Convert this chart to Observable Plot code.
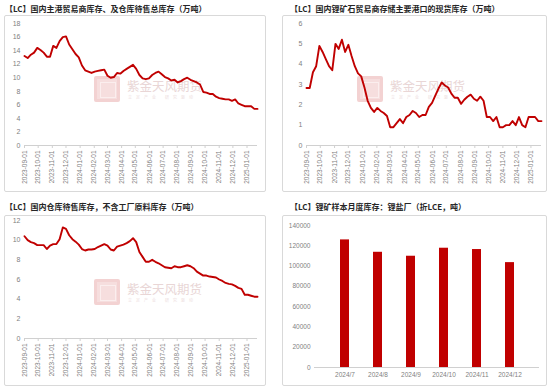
<!DOCTYPE html>
<html><head><meta charset="utf-8">
<script src="https://cdn.jsdelivr.net/npm/d3@7"></script>
<script src="https://cdn.jsdelivr.net/npm/@observablehq/plot@0.6"></script>
<style>
body{margin:0;width:550px;height:387px;position:relative;background:#fff;font-family:"Noto Sans CJK SC",sans-serif;overflow:hidden}
.title{position:absolute;font-size:8px;font-weight:bold;color:#262626;white-space:nowrap;line-height:10px}
.box{position:absolute;border:1px solid #d9d9d9;box-sizing:border-box;border-radius:2px}
.chart{position:absolute}
.wm-logo{position:absolute;width:26px;height:26px;background:#f6dede;border-radius:2px;box-sizing:border-box;border:3px solid #f3d2d2}
.wm-logo i{position:absolute;left:3px;top:3px;width:14px;height:14px;border:1px solid #fbeeee}
.wm-text{position:absolute;font-size:12.5px;color:#e9d6d6;white-space:nowrap;line-height:14px}
.wm-sub{position:absolute;font-size:4px;color:#ecdcdc;white-space:nowrap;letter-spacing:4px;line-height:5px}
</style></head><body>
<div id="root"></div>
<script>
// ---------- data ----------
const startDate = "2023-09-01";
const weeksCount = 74;
const dates = d3.range(weeksCount).map(i => d3.utcDay.offset(new Date(startDate + "T00:00:00Z"), 7 * i));

const title1 = "【LC】国内主港贸易商库存、及仓库待售总库存（万吨）";
const values1 = [13.2,12.9,13.4,13.7,14.4,14.1,13.7,13.1,13.1,14.7,
  14.4,15.4,16.0,16.1,14.9,14.2,13.5,13.0,11.8,11.1,
  10.9,10.7,10.9,11.0,11.1,11.2,10.3,10.0,10.1,10.7,
  10.6,11.0,11.3,11.6,11.9,11.3,10.4,9.9,9.8,9.9,
  10.4,10.7,10.9,10.5,10.1,9.9,9.6,9.7,9.3,9.5,
  9.8,10.0,9.7,9.5,9.3,9.0,7.9,7.8,7.6,7.6,
  7.2,7.0,6.9,6.8,6.8,6.6,6.8,6.2,6.0,5.8,
  5.8,5.8,5.4,5.4];
const yTicks1 = [0,2,4,6,8,10,12,14,16,18];

const title2 = "【LC】国内锂矿石贸易商存储主要港口的现货库存（万吨）";
const values2 = [2.83,2.83,3.6,3.9,4.9,4.6,4.25,3.9,3.7,5.0,
  4.75,5.2,4.6,4.95,4.4,3.9,3.55,3.4,2.85,2.2,
  1.85,1.65,1.85,1.7,1.6,1.45,0.9,0.9,1.1,1.3,
  1.1,1.4,1.5,1.7,1.6,1.4,1.5,1.5,1.9,2.1,
  2.45,2.8,3.1,2.95,2.85,2.55,2.35,2.35,2.05,2.25,
  2.4,2.5,2.3,2.2,2.4,2.2,1.4,1.4,1.2,1.4,
  0.9,0.9,1.0,1.0,1.2,1.0,1.4,1.0,0.9,1.4,
  1.4,1.4,1.2,1.2];
const yTicks2 = [0,1,2,3,4,5,6];

const title3 = "【LC】国内仓库待售库存，不含工厂原料库存（万吨）";
const values3 = [10.4,10.0,9.8,9.7,9.5,9.5,9.5,9.1,9.45,9.6,
  9.6,10.1,11.3,11.15,10.5,10.1,9.85,9.55,9.1,8.95,
  9.05,9.05,9.1,9.3,9.45,9.6,9.45,9.05,8.95,9.35,
  9.45,9.55,9.7,9.9,10.2,9.8,8.8,8.3,7.8,7.8,
  8.0,7.8,7.65,7.45,7.25,7.2,7.15,7.35,7.25,7.25,
  7.35,7.45,7.35,7.15,6.8,6.6,6.4,6.4,6.3,6.25,
  6.2,6.0,5.85,5.65,5.55,5.5,5.35,5.15,5.05,4.45,
  4.45,4.35,4.25,4.25];
const yTicks3 = [0,2,4,6,8,10,12];

const title4 = "【LC】锂矿样本月度库存：锂盐厂（折LCE，吨）";
const months4 = ["2024/7","2024/8","2024/9","2024/10","2024/11","2024/12"];
const values4 = [125800,113600,109700,117600,116300,103400];
const yTicks4 = [0,20000,40000,60000,80000,100000,120000,140000];

const watermarkText = "紫金天风期货";
const watermarkSub = "立足产业 研究驱动";

// ---------- helpers ----------
const RED = "#C00000";
const AXIS = "#d0d0d0";
const LABEL = "#7f7f7f";
const root = document.getElementById("root");
const lastDate = dates[dates.length - 1];
const monthTicks = d3.utcMonth.range(dates[0], d3.utcDay.offset(lastDate, 1));
const fmt = d3.utcFormat("%Y-%m-%d");

function addDiv(cls, left, top, w, h, text) {
  const d = document.createElement("div");
  d.className = cls;
  d.style.left = left + "px"; d.style.top = top + "px";
  if (w != null) d.style.width = w + "px";
  if (h != null) d.style.height = h + "px";
  if (text != null) d.textContent = text;
  root.appendChild(d);
  return d;
}
function watermark(x, y) {
  const logo = addDiv("wm-logo", x, y);
  logo.appendChild(document.createElement("i"));
  addDiv("wm-text", x + 33, y + 3, null, null, watermarkText);
  addDiv("wm-sub", x + 34, y + 19, null, null, watermarkSub);
}
const style = {fontFamily: "'Liberation Sans', Arial, sans-serif", fontSize: "6.5px", color: LABEL, background: "transparent", overflow: "visible"};

function lineChart(values, yTicks, w, h, m) {
  return Plot.plot({
    width: w, height: h,
    marginLeft: m.l, marginRight: m.r, marginTop: m.t, marginBottom: m.b,
    style,
    x: {type: "utc", domain: [dates[0], lastDate]},
    y: {domain: [yTicks[0], yTicks[yTicks.length - 1]]},
    marks: [
      Plot.axisY({ticks: yTicks, tickSize: 0, tickPadding: 4, label: null, fontSize: 7, tickFormat: d => String(d)}),
      Plot.ruleY([0], {stroke: AXIS}),
      Plot.axisX({ticks: monthTicks, tickFormat: fmt, tickRotate: -90, tickSize: 3, tickPadding: 2, stroke: AXIS, label: null}),
      Plot.lineY(values, {x: (d, i) => dates[i], y: d => d, stroke: RED, strokeWidth: 1.9, curve: "linear"})
    ]
  });
}

// ---------- panel 1 ----------
addDiv("box", 4, 15, 262, 177);
addDiv("title", 5, 4, null, null, title1);
watermark(94, 76);
const c1 = lineChart(values1, yTicks1, 262, 177, {l: 20, r: 9, t: 8, b: 47});
c1.classList.add("chart"); c1.style.left = "4px"; c1.style.top = "15px"; root.appendChild(c1);

// ---------- panel 2 ----------
addDiv("box", 282, 15, 265, 177);
addDiv("title", 290, 4, null, null, title2);
watermark(357, 76);
const c2 = lineChart(values2, yTicks2, 265, 177, {l: 24, r: 6, t: 8, b: 47});
c2.classList.add("chart"); c2.style.left = "282px"; c2.style.top = "15px"; root.appendChild(c2);

// ---------- panel 3 ----------
addDiv("box", 4, 215, 262, 171);
addDiv("title", 5, 202, null, null, title3);
watermark(94, 279);
const c3 = lineChart(values3, yTicks3, 262, 171, {l: 20, r: 9, t: 5, b: 48});
c3.classList.add("chart"); c3.style.left = "4px"; c3.style.top = "215px"; root.appendChild(c3);

// ---------- panel 4 ----------
addDiv("box", 282, 215, 265, 171);
addDiv("title", 290, 202, null, null, title4);
const c4 = Plot.plot({
  width: 265, height: 171,
  marginLeft: 32, marginRight: 8, marginTop: 10, marginBottom: 19,
  style,
  x: {domain: months4, padding: 0.73},
  y: {domain: [0, 140000]},
  marks: [
    Plot.axisY({ticks: yTicks4, tickSize: 0, tickPadding: 4, label: null, tickFormat: d => String(d)}),
    Plot.barY(values4, {x: (d, i) => months4[i], y: d => d, fill: RED}),
    Plot.ruleY([0], {stroke: AXIS}),
    Plot.axisX({tickSize: 0, tickPadding: 5, label: null})
  ]
});
c4.classList.add("chart"); c4.style.left = "282px"; c4.style.top = "215px"; root.appendChild(c4);
</script>
</body></html>
